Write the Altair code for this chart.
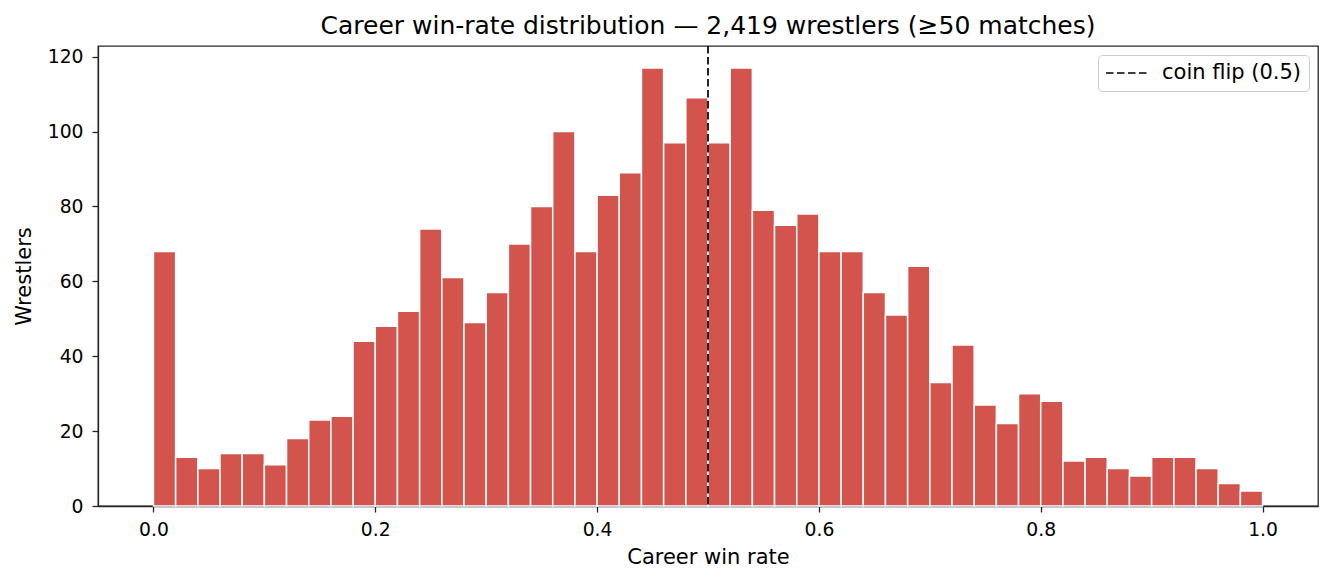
import altair as alt
import pandas as pd

# histogram counts, 50 bins of width 0.02 from 0 to 1
bin_starts = [i / 50 for i in range(50)]
counts = [68, 13, 10, 14, 14, 11, 18, 23, 24, 44,
          48, 52, 74, 61, 49, 57, 70, 80, 100, 68,
          83, 89, 117, 97, 109, 97, 117, 79, 75, 78,
          68, 68, 57, 51, 64, 33, 43, 27, 22, 30,
          28, 12, 13, 10, 8, 13, 13, 10, 6, 4]
x_ticks = [0.0, 0.2, 0.4, 0.6, 0.8, 1.0]
y_ticks = [0, 20, 40, 60, 80, 100, 120]
ref_x = [0.5]
ref_label = ["coin flip (0.5)"]

bars_df = pd.DataFrame({
    "start": bin_starts,
    "end": [s + 0.02 for s in bin_starts],
    "count": counts,
})
ref_df = pd.DataFrame({"x": ref_x, "label": ref_label})

font = "DejaVu Sans"

x_scale = alt.Scale(domain=[-0.05, 1.05], nice=False, zero=False)
y_scale = alt.Scale(domain=[0, 122.85], nice=False)

bars = alt.Chart(bars_df).mark_bar(
    color="#d3544d", stroke="white", strokeWidth=1.5
).encode(
    x=alt.X("start:Q", scale=x_scale,
            axis=alt.Axis(title="Career win rate", values=x_ticks, format=".1f",
                          labelPadding=8, titlePadding=8)),
    x2="end:Q",
    y=alt.Y("count:Q", scale=y_scale,
            axis=alt.Axis(title="Wrestlers", values=y_ticks,
                          labelPadding=9, titlePadding=13)),
    y2=alt.datum(0),
)

rule = alt.Chart(ref_df).mark_rule(color="black", strokeWidth=1.7).encode(
    x="x:Q",
    strokeDash=alt.StrokeDash(
        "label:N",
        scale=alt.Scale(domain=ref_label, range=[[7.5, 3.5]]),
        legend=alt.Legend(
            title=None, orient="top-right", offset=9,
            symbolType="stroke", symbolSize=1849, symbolStrokeColor="black",
            symbolStrokeWidth=1.7, labelFontSize=21, labelFont=font,
            labelColor="black", labelOffset=12, clipHeight=22,
            strokeColor="#cccccc", fillColor="white", cornerRadius=4,
            padding=7,
        ),
    ),
)

chart = (bars + rule).properties(
    width=1220,
    height=460,
    title=alt.Title(
        "Career win-rate distribution \u2014 2,419 wrestlers (\u226550 matches)",
        fontSize=25, font=font, fontWeight="normal", color="black", offset=6,
    ),
    autosize=alt.AutoSizeParams(type="none"),
    padding={"left": 90, "top": 38, "right": 4, "bottom": 66},
).configure_view(
    stroke="#262626", strokeWidth=1.3
).configure_axis(
    grid=False,
    zindex=1,
    domainColor="#262626",
    domainWidth=1.3,
    tickColor="#262626",
    tickSize=6,
    tickWidth=1.3,
    labelFont=font,
    labelFontSize=18.75,
    labelColor="black",
    titleFont=font,
    titleFontSize=21,
    titleFontWeight="normal",
    titleColor="black",
)

chart.save("out.html", embed_options={"renderer": "svg", "actions": False})
